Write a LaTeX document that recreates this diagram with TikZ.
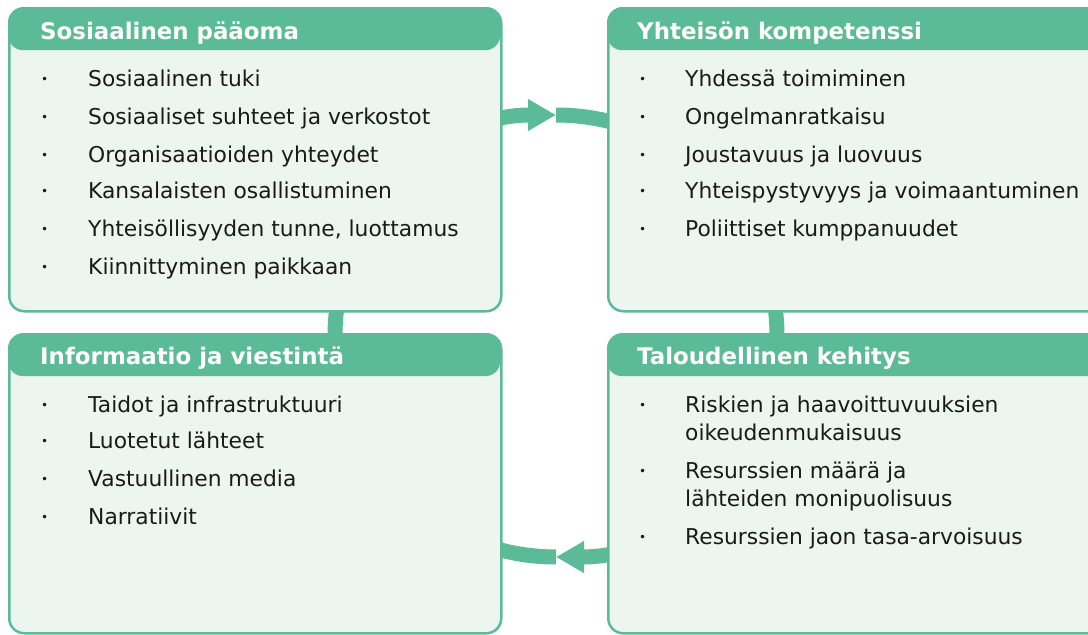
\documentclass[tikz,border=0pt]{standalone}
\usepackage{fontspec}
\setmainfont{DejaVu Sans}
\usetikzlibrary{arrows.meta}
\definecolor{ringgreen}{HTML}{5BBA98}
\definecolor{boxfill}{HTML}{EDF5F1}
\definecolor{inktext}{HTML}{1A1A1A}

\begin{document}
\begin{tikzpicture}[x=1pt, y=-1pt,
    panel/.style = {draw=ringgreen, line width=2.5pt, fill=boxfill,
      rounded corners=15pt, anchor=north west, inner sep=0pt},
    headbar/.style = {fill=ringgreen, rounded corners=15pt,
      anchor=north west, inner sep=0pt, minimum height=43pt},
    title/.style = {anchor=base west, inner sep=0pt, text=white,
      font=\fontsize{22.9}{28}\selectfont\bfseries},
    item/.style = {anchor=base west, inner sep=0pt, text=inktext,
      align=left, font=\fontsize{21.8}{28}\selectfont},
    dot/.style = {anchor=base west, inner sep=0pt, text=inktext,
      font=\fontsize{12}{16}\selectfont}]
  \useasboundingbox (0,0) rectangle (1088,635);
  \clip (0,0) rectangle (1088,635);

  % ring behind the panels
  \coordinate (ringtop) at (556,115);
  \coordinate (ringbot) at (556,557);
  \draw[ringgreen, line width=15pt, -{Triangle[length=28pt,width=30pt]}]
    (ringbot) arc[start angle=90, end angle=270, radius=221];
  \draw[ringgreen, line width=15pt, -{Triangle[length=28pt,width=30pt]}]
    (ringtop) arc[start angle=-90, end angle=90, radius=221];

  % panels
  \node[panel, minimum width=492pt, minimum height=303pt] (sosbox) at (8,7) {};
  \node[panel, minimum width=500pt, minimum height=303pt] (kombox) at (607,7) {};
  \node[panel, minimum width=492pt, minimum height=299pt] (infbox) at (8,333) {};
  \node[panel, minimum width=500pt, minimum height=299pt] (talbox) at (607,333) {};

  \node[headbar, minimum width=492pt] (soshead) at (sosbox.north west) {};
  \node[headbar, minimum width=500pt] (komhead) at (kombox.north west) {};
  \node[headbar, minimum width=492pt] (infhead) at (infbox.north west) {};
  \node[headbar, minimum width=500pt] (talhead) at (talbox.north west) {};

  \node[title] (sostitle) at (40,39) {Sosiaalinen pääoma};
  \node[title] (komtitle) at (637,39) {Yhteisön kompetenssi};
  \node[title] (inftitle) at (40,364) {Informaatio ja viestintä};
  \node[title] (taltitle) at (637,364) {Taloudellinen kehitys};

  % bullet lists (dot baseline / last text baseline / text)
  \foreach \d/\y/\txt [count=\i] in {86/86/Sosiaalinen tuki,
      124/124/Sosiaaliset suhteet ja verkostot,
      162/162/Organisaatioiden yhteydet,
      198/198/Kansalaisten osallistuminen,
      236/236/{Yhteisöllisyyden tunne, luottamus},
      274/274/Kiinnittyminen paikkaan} {
    \node[dot] (sosdot\i) at (41,\d-3) {•};
    \node[item] (sos\i) at (88,\y) {\txt};
  }
  \foreach \d/\y/\txt [count=\i] in {86/86/Yhdessä toimiminen,
      124/124/Ongelmanratkaisu,
      162/162/Joustavuus ja luovuus,
      198/198/Yhteispystyvyys ja voimaantuminen,
      236/236/Poliittiset kumppanuudet} {
    \node[dot] (komdot\i) at (639,\d-3) {•};
    \node[item] (kom\i) at (685,\y) {\txt};
  }
  \foreach \d/\y/\txt [count=\i] in {412/412/Taidot ja infrastruktuuri,
      448/448/Luotetut lähteet,
      486/486/Vastuullinen media,
      524/524/Narratiivit} {
    \node[dot] (infdot\i) at (41,\d-3) {•};
    \node[item] (inf\i) at (88,\y) {\txt};
  }
  \foreach \d/\y/\txt [count=\i] in {412/440/{Riskien ja haavoittuvuuksien\\oikeudenmukaisuus},
      478/506/{Resurssien määrä ja\\lähteiden monipuolisuus},
      544/544/Resurssien jaon tasa-arvoisuus} {
    \node[dot] (taldot\i) at (639,\d-3) {•};
    \node[item] (tal\i) at (685,\y) {\txt};
  }
\end{tikzpicture}
\end{document}
